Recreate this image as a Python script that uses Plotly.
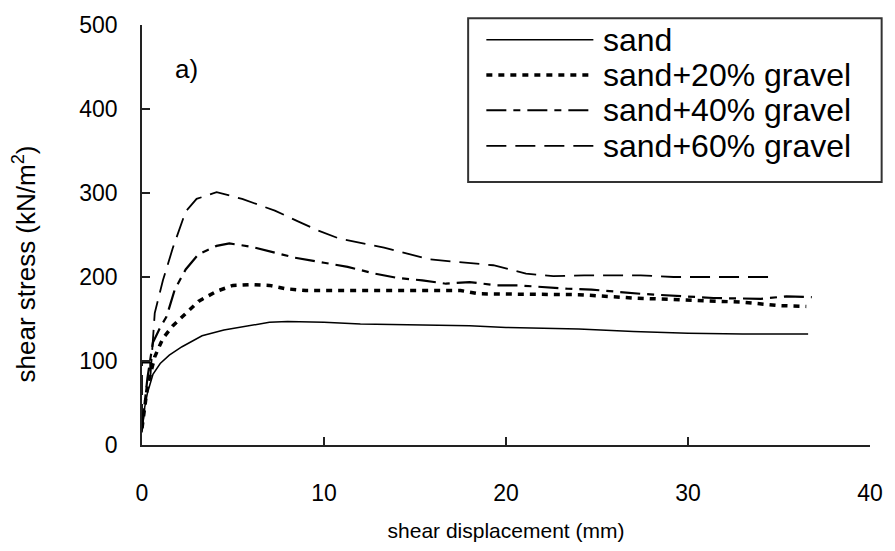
import plotly.graph_objects as go

# ---- data ----
names = ["sand", "sand+20% gravel", "sand+40% gravel", "sand+60% gravel"]

sand_x = [0, 0.15, 0.3, 0.6, 1.0, 1.5, 2.2, 3.3, 4.5, 6, 7, 8, 10, 12, 15, 18, 20, 22, 24, 27, 30, 33, 36.6]
sand_y = [15, 45, 62, 84, 97, 107, 117, 130, 137, 142, 146, 147, 146, 144, 143, 142, 140, 139, 138, 135, 133, 132, 132]

g20_x = [0, 0.3, 0.7, 1.15, 1.7, 2.4, 3.1, 4.1, 5, 6, 7, 7.9, 9, 12, 15, 17.5, 18.5, 21, 24, 27, 30, 33, 35, 36.5]
g20_y = [20, 70, 105, 127, 142, 157, 171, 183, 190, 191, 190, 186, 184, 184, 184, 184, 180, 180, 179, 175, 172, 170, 166, 165]

g40_x = [0, 0.3, 0.6, 1.0, 1.35, 1.8, 2.4, 3.1, 4.1, 4.8, 6, 7.3, 8.4, 10, 11.3, 12.8, 14, 15.4, 16.7, 18,
         19.5, 20.7, 22, 23.4, 24.7, 27.4, 29.8, 31.4, 34, 35.4, 36.8]
g40_y = [20, 80, 122, 140, 153, 185, 209, 227, 237, 240, 236, 229, 223, 217, 212, 204, 199, 196, 192, 194,
         190, 190, 188, 186, 185, 180, 177, 175, 174, 177, 176]

g60_x = [0, 0, 0.45, 0.45, 0.7, 1.15, 1.7, 2.4, 3, 4.1, 5.5, 7.3, 8.6, 9.6, 10.8, 13.3, 15.8, 19.3, 21.1, 22.6,
         24.3, 27.4, 29.2, 34.8]
g60_y = [25, 98, 98, 78, 157, 196, 235, 278, 293, 301, 293, 279, 266, 256, 246, 235, 221, 214, 204, 201,
         202, 202, 200, 200]

x_ticks = [0, 10, 20, 30, 40]
y_ticks = [0, 100, 200, 300, 400, 500]

# ---- styles ----
FONT = "Liberation Sans, Arial, sans-serif"
styles = [
    dict(color="black", width=1.5, dash="solid"),
    dict(color="black", width=3.5, dash="6px,6px"),
    dict(color="black", width=2.2, dash="20px,7px,7px,7px"),
    dict(color="black", width=1.8, dash="20px,9px"),
]

series = [(sand_x, sand_y), (g20_x, g20_y), (g40_x, g40_y), (g60_x, g60_y)]

fig = go.Figure()
for (xs, ys), nm, st in zip(series, names, styles):
    fig.add_trace(go.Scatter(x=xs, y=ys, mode="lines", name=nm, line=st, showlegend=False))

# ---- manual legend (paper coordinates) ----
row_y = [0.965, 0.881, 0.797, 0.712]
shapes = [dict(type="rect", xref="paper", yref="paper", x0=0.448, x1=1.016, y0=0.626, y1=1.016,
               line=dict(color="#333333", width=2), fillcolor="white", layer="above")]
annotations = []
for nm, st, ry in zip(names, styles, row_y):
    shapes.append(dict(type="line", xref="paper", yref="paper", x0=0.473, x1=0.620, y0=ry, y1=ry,
                       line=dict(color="black", width=st["width"], dash=st["dash"]), layer="above"))
    annotations.append(dict(xref="paper", yref="paper", x=0.630, y=ry, xanchor="left", yanchor="middle",
                            text=nm, showarrow=False, font=dict(family=FONT, size=32, color="black")))

annotations.append(dict(xref="paper", yref="paper", x=0.042, y=0.895, xanchor="left", yanchor="middle",
                        text="a)", showarrow=False, font=dict(family=FONT, size=26, color="black")))
annotations.append(dict(xref="paper", yref="paper", x=-0.162, y=0.43, xanchor="center", yanchor="middle",
                        textangle=-90, text="shear stress (kN/m<sup>2</sup>)", showarrow=False,
                        font=dict(family=FONT, size=26, color="black")))

fig.update_layout(
    width=895, height=551,
    margin=dict(l=142, r=17, t=22, b=99),
    paper_bgcolor="white", plot_bgcolor="white",
    shapes=shapes, annotations=annotations,
    font=dict(family=FONT, color="black"),
)
fig.update_xaxes(range=[0, 40], tickvals=x_ticks, ticks="inside", ticklen=8, tickwidth=1.5,
                 tickcolor="#222", showline=True, linecolor="#222", linewidth=1.5, showgrid=False,
                 zeroline=False, tickfont=dict(size=23), ticklabelstandoff=27,
                 title=dict(text="shear displacement (mm)", font=dict(size=21), standoff=18))
fig.update_yaxes(range=[0, 500], tickvals=y_ticks, ticks="inside", ticklen=8, tickwidth=1.5,
                 tickcolor="#222", showline=True, linecolor="#222", linewidth=1.5, showgrid=False,
                 zeroline=False, tickfont=dict(size=23), ticklabelstandoff=18)

fig.write_html("out.html")
